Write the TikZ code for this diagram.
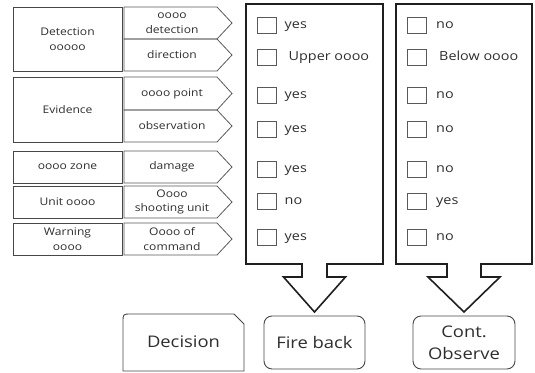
\documentclass[tikz,border=0pt]{standalone}
\usepackage{fontspec}
\setmainfont[FakeStretch=1.15]{Open Sans}
\begin{document}
\begin{tikzpicture}[x=1pt,y=-1pt,
  every node/.style={text=black!82},
  lbox/.style={draw=black!72, line width=0.9pt, minimum width=109pt, inner sep=1pt, align=center, font=\fontsize{10.5}{14.5}\selectfont},
  pen/.style={draw=black!65, line width=0.8pt},
  ptext/.style={inner sep=1pt, align=center, font=\fontsize{10.5}{14.5}\selectfont},
  tall/.style={draw=black!88, line width=1.6pt, line join=miter},
  cbox/.style={draw=black!65, line width=0.9pt, minimum width=19pt, minimum height=16pt, inner sep=0pt},
  item/.style={inner sep=0pt, anchor=base west, font=\fontsize{12.5}{15}\selectfont},
  btext/.style={inner sep=0pt, align=center, font=\fontsize{16}{22}\selectfont},
  bbox/.style={draw=black!72, line width=0.9pt, rounded corners=8pt, align=center, inner sep=0pt, font=\fontsize{16}{22}\selectfont}
]
\useasboundingbox (0,0) rectangle (535,372);

% left boxes
\node[lbox, minimum height=64pt] (det) at (67.5,39) {Detection\\ooooo};
\node[lbox, minimum height=65pt] (evi) at (67.5,109.5) {Evidence};
\node[lbox, minimum height=32pt] (zone) at (67.5,167) {oooo zone};
\node[lbox, minimum height=32pt] (unit) at (67.5,202) {Unit oooo};
\node[lbox, minimum height=32pt] (warn) at (67.5,239) {Warning\\oooo};

% pentagons
\newcommand\mypent[4]{%
  \draw[pen] (124,#2) -- (217,#2) -- (232,{(#2+#3)/2}) -- (217,#3) -- (124,#3) -- cycle;
  \node[ptext] (#1) at (172,{(#2+#3)/2}) {#4};}
\mypent{pdet}{7}{39}{oooo\\detection}
\mypent{pdir}{39}{71}{direction}
\mypent{ppoint}{77}{110}{oooo point}
\mypent{pobs}{110}{142}{observation}
\mypent{pdam}{151}{183}{damage}
\mypent{pshoot}{186}{218}{Oooo\\shooting unit}
\mypent{pcmd}{223}{255}{Oooo of\\command}

% tall boxes with arrows
\coordinate (tipA) at (314.5,312);
\coordinate (tipB) at (464,312);
\draw[tall] (302,264) -- (246,264) -- (246,4) -- (383,4) -- (383,264) -- (327,264)
  -- (327,277) -- (345.5,277) -- (tipA) -- (283.5,277) -- (302,277) -- cycle;
\draw[tall] (447,264) -- (396,264) -- (396,4) -- (532,4) -- (532,264) -- (481,264)
  -- (481,277) -- (500,277) -- (tipB) -- (428,277) -- (447,277) -- cycle;

% check lists
\foreach \i/\cy/\ta/\oa/\tb/\ob in {1/25/yes/0/no/0, 2/57/Upper oooo/4/Below oooo/3,
  3/95/yes/0/no/0, 4/129/yes/0/no/0, 5/169/yes/0/no/0, 6/201/no/0/yes/0, 7/237/yes/0/no/0}{
  \node[cbox] (ca\i) at (266.5,\cy) {};
  \node[item] (ta\i) at (284.5+\oa,\cy+3.5) {\ta};
  \node[cbox] (cb\i) at (416.5,\cy) {};
  \node[item] (tb\i) at (436+\ob,\cy+3.5) {\tb};
}

% bottom boxes
\draw[draw=black!72, line width=0.9pt] (123,371) -- (123,322) .. controls (123,314) .. (131,314)
  -- (234,314) -- (244,324) -- (244,371) -- cycle;
\node[btext] (dec) at (183.5,342) {Decision};
\node[bbox, minimum width=101pt, minimum height=53pt] (fire) at (314.5,342.5) {Fire back};
\node[bbox, minimum width=102pt, minimum height=53pt] (cont) at (464,342.5) {Cont.\\Observe};
\end{tikzpicture}
\end{document}
